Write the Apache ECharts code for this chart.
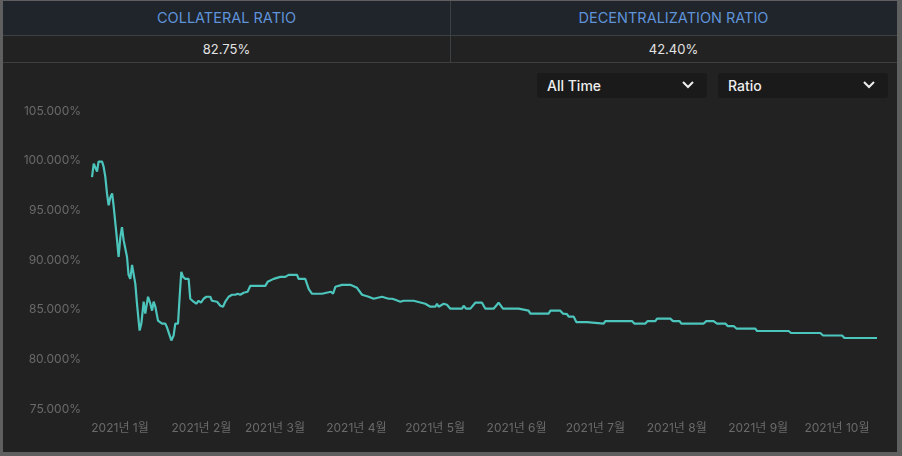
<!DOCTYPE html>
<html>
<head>
    <meta charset="utf-8">
    <title>Collateral Ratio</title>
    <script src="https://cdn.jsdelivr.net/npm/echarts@6/dist/echarts.min.js"></script>
    <style>
        body { margin: 0; background: #5f5f5f; font-family: Inter, "Noto Sans CJK KR", sans-serif; }
        .panel { position: absolute; left: 3px; top: 1px; width: 894px; height: 451px; background: #222222; overflow: hidden; }
        .head { position: absolute; left: 0; top: 0; width: 894px; height: 34px; background: #1f252b; border-bottom: 1px solid #3b4045; }
        .vals { position: absolute; left: 0; top: 35px; width: 894px; height: 26px; border-bottom: 1px solid #3e3e3e; }
        .cell { position: absolute; top: 0; width: 447px; height: 100%; text-align: center; }
        .head .cell { line-height: 34px; color: #5f93da; font-size: 14.5px; }
        .vals .cell { line-height: 26px; color: #e2e2e2; font-size: 13px; }
        .divider { position: absolute; left: 447px; top: 0; width: 1px; height: 61px; background: #3b4045; }
        .dd { position: absolute; top: 72px; height: 25px; width: 170px; background: #1a1a1a; border-radius: 3px;
              color: #eeeeee; font-size: 14px; font-weight: 500; line-height: 25px; box-sizing: border-box; padding-left: 10px; }
        .dd svg { position: absolute; right: 13px; top: 8px; }
        #chart1 { position: absolute; left: 0; top: 0; width: 902px; height: 456px; }
    </style>
</head>
<body>
<div class="panel">
    <div class="head">
        <div class="cell" style="left:0">COLLATERAL RATIO</div>
        <div class="cell" style="left:447px">DECENTRALIZATION RATIO</div>
    </div>
    <div class="vals">
        <div class="cell" style="left:0">82.75%</div>
        <div class="cell" style="left:447px">42.40%</div>
    </div>
    <div class="divider"></div>
    <div class="dd" style="left:534px">All Time
        <svg width="12" height="8" viewBox="0 0 12 8"><path d="M1 1 L6 6 L11 1" stroke="#eee" stroke-width="2" fill="none"/></svg>
    </div>
    <div class="dd" style="left:715px">Ratio
        <svg width="12" height="8" viewBox="0 0 12 8"><path d="M1 1 L6 6 L11 1" stroke="#eee" stroke-width="2" fill="none"/></svg>
    </div>
</div>
<!-- 차트 영역 -->
<div id="chart1"></div>
<script type="text/javascript">
    // 날짜 / 담보 비율(%) - 그림에서 읽은 값
    var dates = [
        '2020-12-21 08:00', '2020-12-22 00:00', '2020-12-22 14:00', '2020-12-23 06:00', '2020-12-23 20:00',
        '2020-12-25 04:00', '2020-12-25 18:00', '2020-12-26 10:00', '2020-12-27 01:00', '2020-12-27 16:00',
        '2020-12-28 07:00', '2020-12-29 00:00', '2020-12-29 13:00', '2020-12-30 21:00', '2020-12-31 11:00',
        '2021-01-01 03:00', '2021-01-01 18:00', '2021-01-02 09:00', '2021-01-03 16:00', '2021-01-04 06:00',
        '2021-01-04 22:00', '2021-01-05 14:00', '2021-01-06 04:00', '2021-01-06 20:00', '2021-01-07 11:00',
        '2021-01-08 11:00', '2021-01-09 03:00', '2021-01-10 00:00', '2021-01-10 15:00', '2021-01-11 16:00',
        '2021-01-12 13:00', '2021-01-13 05:00', '2021-01-13 19:00', '2021-01-14 11:00', '2021-01-15 11:00',
        '2021-01-17 00:00', '2021-01-18 06:00', '2021-01-18 22:00', '2021-01-19 12:00', '2021-01-20 13:00',
        '2021-01-21 10:00', '2021-01-22 01:00', '2021-01-23 02:00', '2021-01-23 17:00', '2021-01-24 08:00',
        '2021-01-25 00:00', '2021-01-25 21:00', '2021-01-27 03:00', '2021-01-27 18:00', '2021-01-29 00:00',
        '2021-01-30 01:00', '2021-01-30 22:00', '2021-01-31 20:00', '2021-02-01 20:00', '2021-02-02 21:00',
        '2021-02-04 09:00', '2021-02-05 00:00', '2021-02-06 23:00', '2021-02-08 05:00', '2021-02-09 05:00',
        '2021-02-10 02:00', '2021-02-11 09:00', '2021-02-12 16:00', '2021-02-13 22:00', '2021-02-14 19:00',
        '2021-02-15 19:00', '2021-02-17 02:00', '2021-02-18 14:00', '2021-02-19 15:00', '2021-02-25 08:00',
        '2021-02-26 05:00', '2021-02-28 12:00', '2021-03-03 01:00', '2021-03-04 23:00', '2021-03-06 05:00',
        '2021-03-09 10:00', '2021-03-10 00:00', '2021-03-12 13:00', '2021-03-13 20:00', '2021-03-15 03:00',
        '2021-03-18 22:00', '2021-03-19 13:00', '2021-03-22 08:00', '2021-03-23 03:00', '2021-03-24 00:00',
        '2021-03-26 13:00', '2021-03-29 17:00', '2021-03-30 08:00', '2021-04-01 06:00', '2021-04-03 04:00',
        '2021-04-05 16:00', '2021-04-07 14:00', '2021-04-08 05:00', '2021-04-10 18:00', '2021-04-11 09:00',
        '2021-04-13 07:00', '2021-04-13 22:00', '2021-04-14 14:00', '2021-04-15 20:00', '2021-04-17 18:00',
        '2021-04-19 00:00', '2021-04-22 19:00', '2021-04-23 11:00', '2021-04-27 06:00', '2021-04-29 04:00',
        '2021-05-01 02:00', '2021-05-01 17:00', '2021-05-02 08:00', '2021-05-04 06:00', '2021-05-05 12:00',
        '2021-05-06 19:00', '2021-05-11 06:00', '2021-05-11 20:00', '2021-05-12 18:00', '2021-05-14 10:00',
        '2021-05-16 07:00', '2021-05-18 20:00', '2021-05-20 03:00', '2021-05-23 06:00', '2021-05-25 04:00',
        '2021-05-26 20:00', '2021-06-01 19:00', '2021-06-02 11:00', '2021-06-05 14:00', '2021-06-06 06:00',
        '2021-06-13 05:00', '2021-06-13 21:00', '2021-06-17 16:00', '2021-06-18 17:00', '2021-06-20 05:00',
        '2021-06-20 20:00', '2021-06-22 18:00', '2021-06-23 18:00', '2021-06-27 20:00', '2021-06-28 11:00',
        '2021-07-04 04:00', '2021-07-04 19:00', '2021-07-14 23:00', '2021-07-15 20:00', '2021-07-20 01:00',
        '2021-07-20 22:00', '2021-07-23 20:00', '2021-07-24 12:00', '2021-07-29 13:00', '2021-07-30 14:00',
        '2021-08-02 02:00', '2021-08-02 18:00', '2021-08-11 06:00', '2021-08-12 06:00', '2021-08-15 01:00',
        '2021-08-16 08:00', '2021-08-19 12:00', '2021-08-20 09:00', '2021-08-22 16:00', '2021-08-23 17:00',
        '2021-08-30 22:00', '2021-08-31 14:00', '2021-09-12 15:00', '2021-09-13 12:00', '2021-09-24 16:00',
        '2021-09-25 17:00', '2021-10-02 23:00', '2021-10-03 20:00', '2021-10-16 06:00'
    ];
    var ratios = [
        98.35, 99.7, 99.9, 98.9, 99.9,
        99.9, 99.4, 98.35, 96.7, 95.5,
        96.3, 96.7, 95.5, 92.0, 90.3,
        92.3, 93.3, 92.0, 90.3, 88.5,
        88.1, 89.5, 89.5, 87.6, 85.6,
        82.9, 83.6, 85.8, 84.6, 86.3,
        85.6, 84.9, 85.8, 85.3, 83.9,
        83.6, 83.6, 83.2, 83.4, 81.9,
        82.4, 83.6, 83.6, 86.3, 88.8,
        88.3, 88.1, 88.1, 86.1, 85.8,
        85.6, 85.9, 85.7, 86.1, 86.3,
        86.3, 85.9, 85.8, 85.4, 85.3,
        85.8, 86.3, 86.5, 86.5, 86.6,
        86.5, 86.7, 86.8, 87.4, 87.4,
        87.8, 88.1, 88.3, 88.3, 88.5,
        88.5, 88.1, 88.1, 87.1, 86.6,
        86.6, 86.8, 86.8, 86.6, 87.3,
        87.5, 87.5, 87.3, 87.2, 86.5,
        86.3, 86.1, 86.3, 86.3, 86.1,
        86.1, 86.2, 86.1, 86.0, 85.8,
        85.9, 85.9, 85.7, 85.6, 85.3,
        85.3, 85.6, 85.3, 85.6, 85.5,
        85.1, 85.1, 85.4, 85.1, 85.1,
        85.7, 85.7, 85.1, 85.1, 85.7,
        85.1, 85.1, 84.9, 84.9, 84.6,
        84.6, 84.9, 84.9, 84.6, 84.55,
        84.3, 84.3, 83.75, 83.75, 83.6,
        83.6, 83.85, 83.85, 83.6, 83.6,
        83.85, 83.85, 84.1, 84.1, 83.85,
        83.85, 83.6, 83.6, 83.85, 83.85,
        83.6, 83.6, 83.35, 83.35, 83.1,
        83.1, 82.85, 82.85, 82.65, 82.65,
        82.4, 82.4, 82.15, 82.15
    ];
    var yTicks = [75, 80, 85, 90, 95, 100, 105];

    var seriesData = dates.map(function (d, i) { return [d, ratios[i]]; });

    var myChart1 = echarts.init(document.getElementById('chart1'));
    myChart1.setOption({
        animation: false,
        grid: { left: 92, right: 25, top: 111, bottom: 47, containLabel: false },
        xAxis: {
            type: 'time',
            min: '2020-12-21 08:00',
            max: '2021-10-16 06:00',
            splitNumber: 10,
            axisLine: { show: false },
            axisTick: { show: false },
            splitLine: { show: false },
            axisLabel: {
                color: '#6a6a6a',
                fontSize: 12,
                margin: 13,
                fontFamily: 'Inter, "Noto Sans CJK KR", sans-serif',
                showMinLabel: false,
                showMaxLabel: false,
                formatter: '{yyyy}년 {M}월'
            }
        },
        yAxis: {
            type: 'value',
            min: yTicks[0],
            max: yTicks[yTicks.length - 1],
            interval: 5,
            axisLine: { show: false },
            axisTick: { show: false },
            splitLine: { show: false },
            axisLabel: {
                color: '#6a6a6a',
                fontSize: 12,
                margin: 11,
                fontFamily: 'Inter, "Noto Sans CJK KR", sans-serif',
                formatter: function (v) { return v.toFixed(3) + '%'; }
            }
        },
        series: [{
            type: 'line',
            data: seriesData,
            showSymbol: false,
            lineStyle: { color: '#4cc5bc', width: 2.2 },
            itemStyle: { color: '#4cc5bc' }
        }]
    });
</script>
</body>
</html>
